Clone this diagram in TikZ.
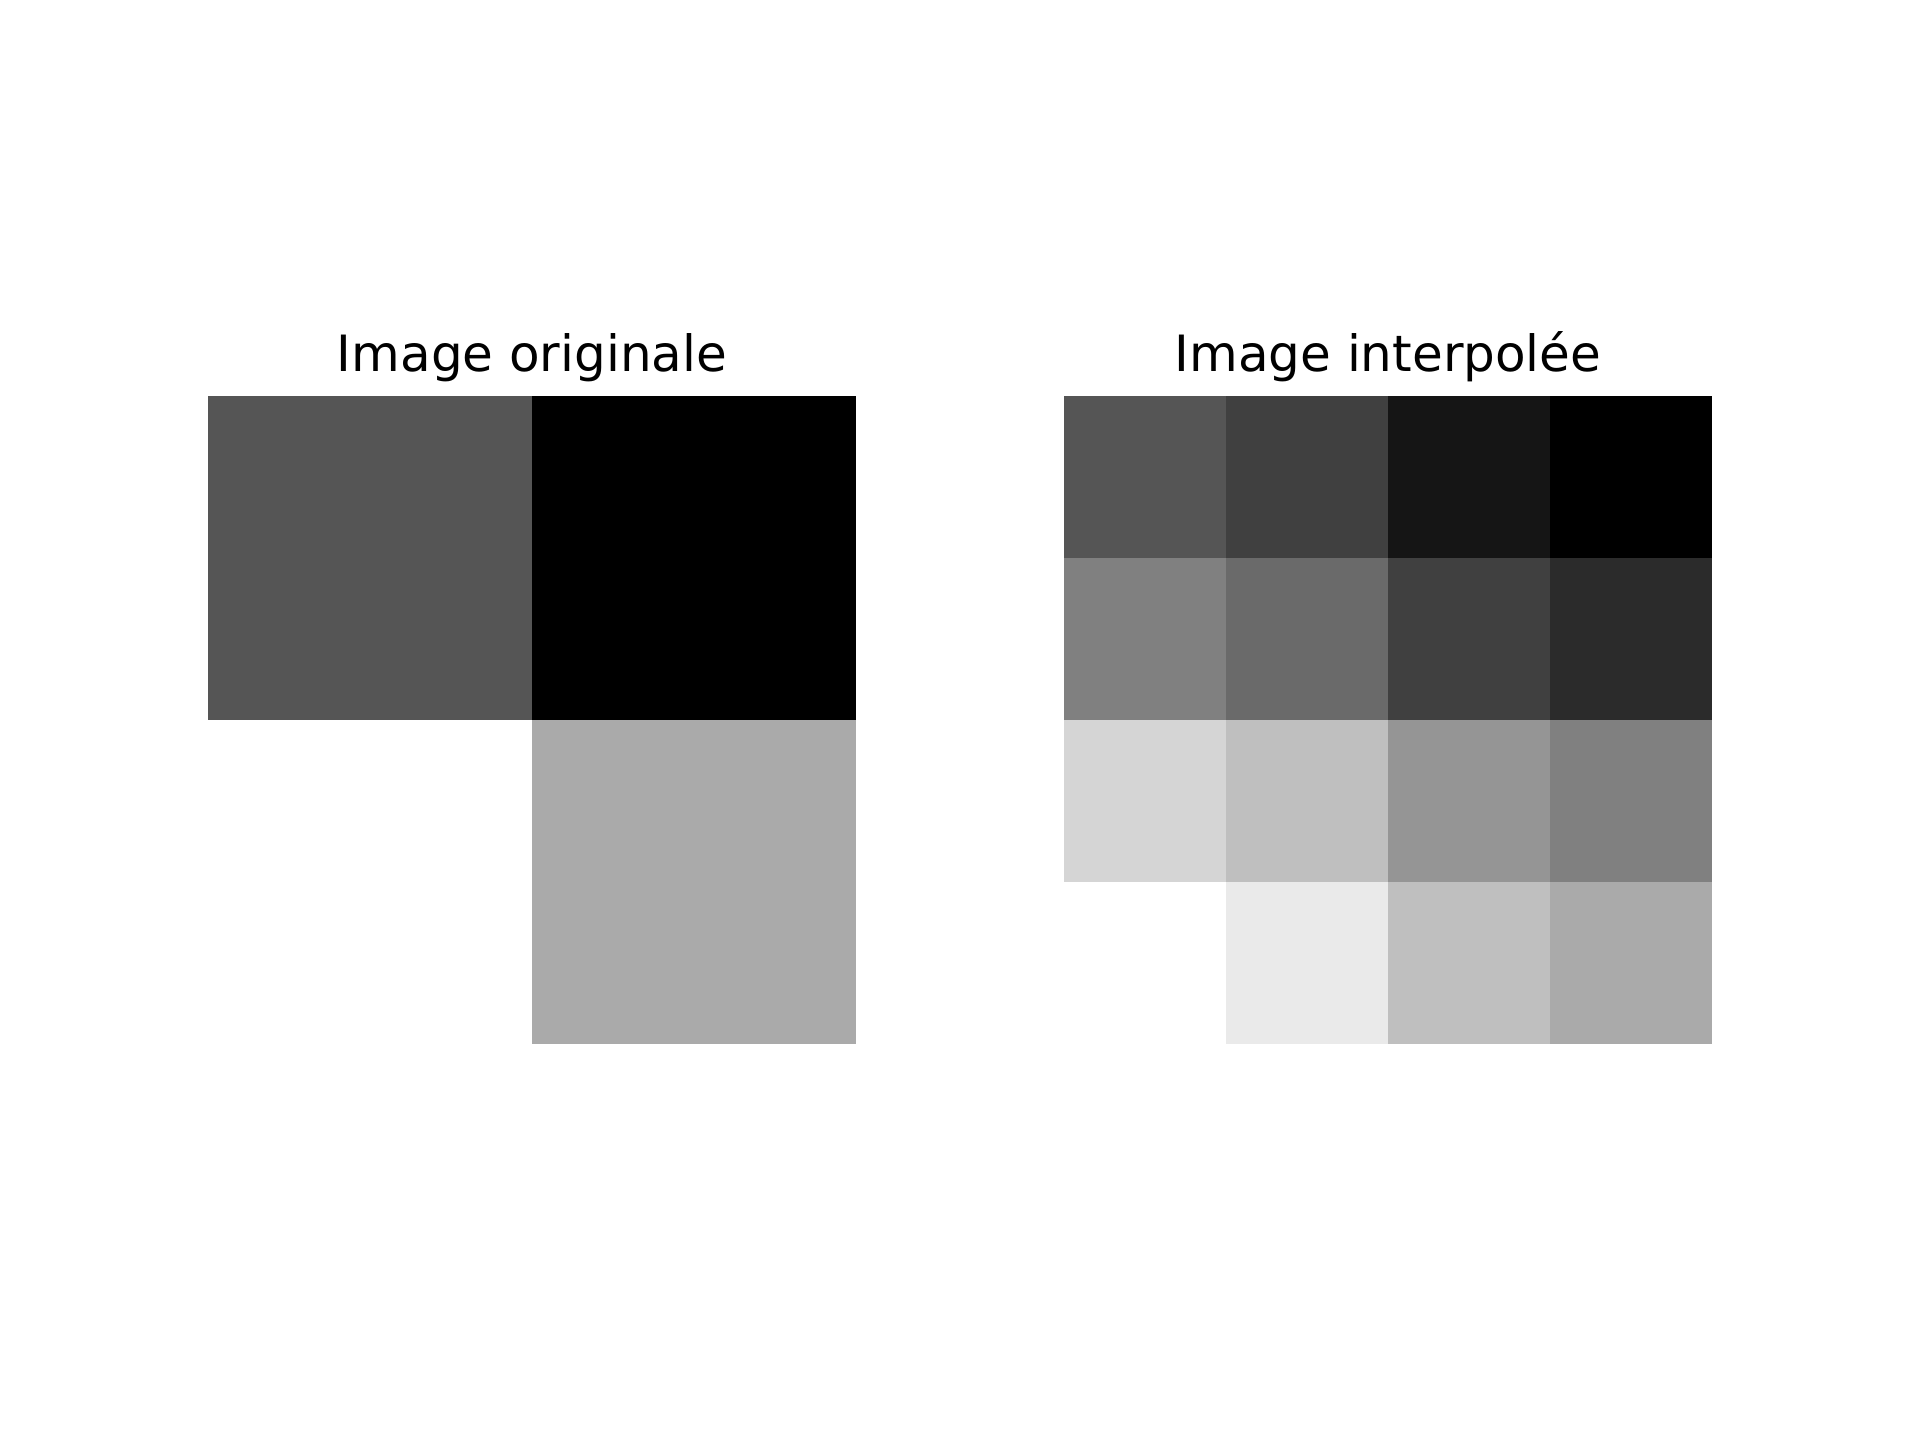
\documentclass[tikz,border=0pt]{standalone}
\usepackage{fontspec}
\setmainfont{DejaVu Sans}
\tikzset{
  every picture/.style={x=0.24pt, y=-0.24pt},
  title/.style={font=\fontsize{12}{14}\selectfont, anchor=base, inner sep=0pt},
}
\begin{document}
\begin{tikzpicture}
  \useasboundingbox (0,0) rectangle (1920,1440);
  % left: original 2x2 image
  \foreach \col/\row/\v in {0/0/85, 1/0/0, 0/1/255, 1/1/170}
    \fill[fill={rgb,255:red,\v;green,\v;blue,\v}] ({208+324*\col},{396+324*\row}) rectangle ++(324,324);
  \node[title] (orig) at (532,371) {Image originale};
  % right: interpolated 4x4 image
  \foreach \row/\vals in {0/{85,64,21,0}, 1/{128,106,64,43}, 2/{213,191,149,128}, 3/{255,234,191,170}}
    \foreach \v [count=\col from 0] in \vals
      \fill[fill={rgb,255:red,\v;green,\v;blue,\v}] ({1064+162*\col},{396+162*\row}) rectangle ++(162,162);
  \node[title] (interp) at (1388,371) {Image interpolée};
\end{tikzpicture}
\end{document}
